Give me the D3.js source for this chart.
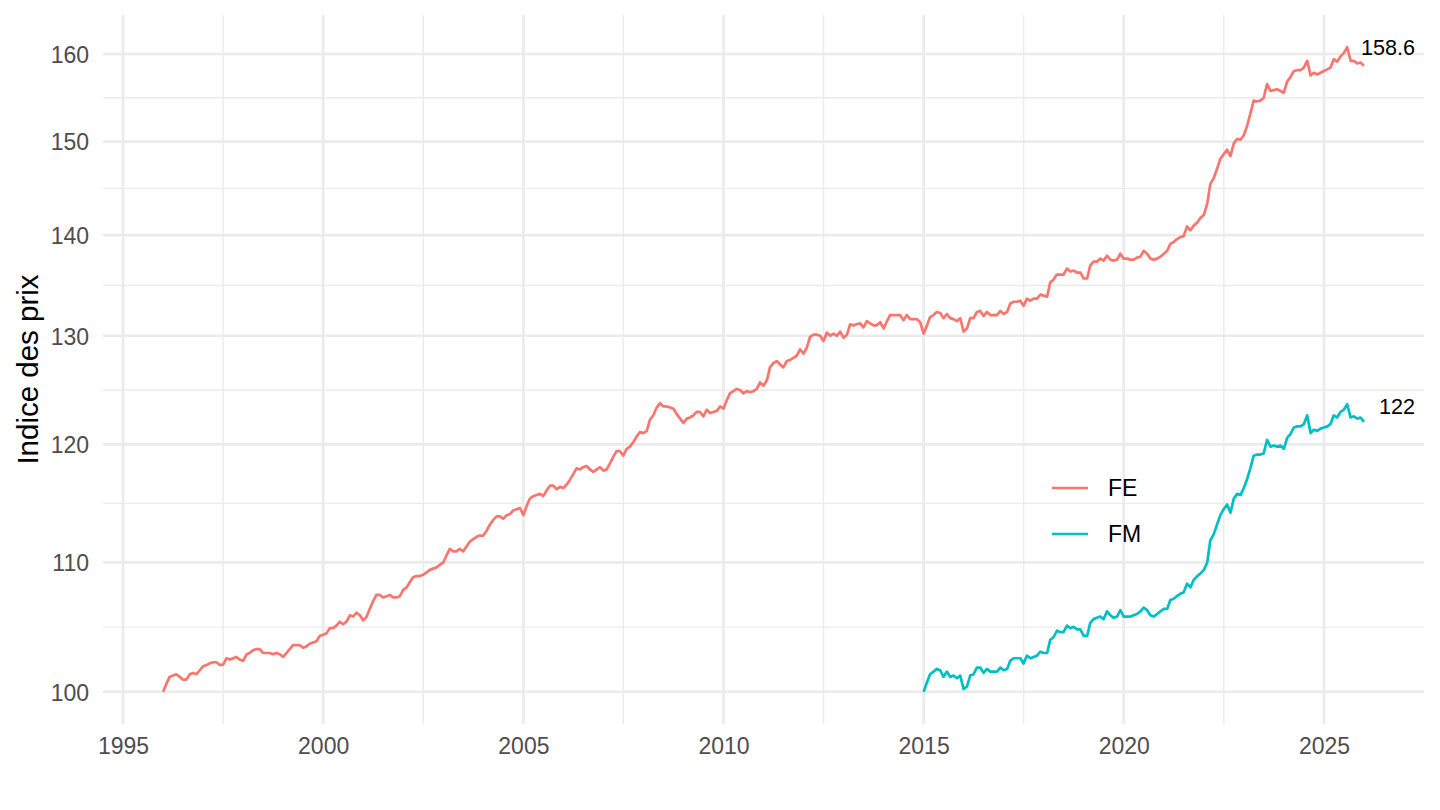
<!DOCTYPE html>
<html>
<head>
<meta charset="utf-8">
<script src="https://cdn.jsdelivr.net/npm/d3@7"></script>
<style>
  html, body { margin: 0; padding: 0; background: #ffffff; }
  svg { display: block; font-family: "Liberation Sans", Arial, Helvetica, sans-serif; }
</style>
</head>
<body>
<svg id="chart" width="1440" height="810"></svg>
<script>
// ---- Data (monthly price index) ----
const seriesNames = ["FE", "FM"];
const seriesColors = ["#F8766D", "#00BFC4"];
const feStart = [1996, 0];   // January 1996
const fmStart = [2015, 0];   // January 2015

const feValues = [
  100.0,100.6,101.1,101.2,101.3,101.1,100.9,100.9,101.3,101.4,101.3,101.6,
  101.9,102.0,102.1,102.2,102.2,102.0,102.0,102.5,102.4,102.5,102.6,102.4,
  102.3,102.8,102.9,103.1,103.2,103.2,102.9,102.9,102.9,102.8,102.9,102.8,
  102.6,102.9,103.2,103.5,103.5,103.5,103.3,103.4,103.6,103.7,103.8,104.2,
  104.3,104.4,104.8,104.8,105.0,105.3,105.1,105.3,105.8,105.7,106.0,105.8,
  105.4,105.7,106.3,106.9,107.4,107.4,107.2,107.3,107.4,107.2,107.2,107.3,
  107.8,108.0,108.4,108.8,108.9,108.9,109.0,109.2,109.4,109.5,109.6,109.8,
  110.0,110.6,111.1,110.9,110.9,111.1,110.9,111.3,111.7,111.9,112.1,112.2,
  112.2,112.6,113.1,113.5,113.8,113.8,113.6,113.9,114.0,114.3,114.4,114.5,
  113.9,114.7,115.3,115.5,115.6,115.7,115.5,116.0,116.4,116.4,116.1,116.3,
  116.2,116.5,116.9,117.4,117.9,117.8,118.0,118.1,117.8,117.6,117.8,118.0,
  117.7,117.8,118.3,118.9,119.4,119.4,119.0,119.6,119.8,120.2,120.7,121.1,
  121.0,121.2,122.2,122.6,123.3,123.7,123.4,123.4,123.3,123.2,122.7,122.3,
  121.9,122.3,122.4,122.6,122.9,122.9,122.5,123.1,122.8,122.9,123.0,123.4,
  123.2,124.0,124.6,124.8,125.0,124.9,124.6,124.8,124.7,124.8,125.0,125.6,
  125.3,125.8,127.0,127.4,127.6,127.3,127.0,127.6,127.7,127.9,128.1,128.7,
  128.3,128.9,129.9,130.1,130.1,130.0,129.5,130.3,130.0,130.2,130.0,130.4,
  129.8,130.1,131.1,131.0,131.1,131.2,130.8,131.4,131.2,131.0,131.0,131.3,
  130.7,131.4,132.0,132.0,132.0,132.0,131.5,132.0,131.6,131.6,131.6,131.3,
  130.2,131.0,131.8,132.0,132.3,132.2,131.7,132.1,131.7,131.6,131.4,131.7,
  130.4,130.7,131.7,131.7,132.3,132.4,131.9,132.3,132.0,132.0,132.0,132.4,
  132.1,132.3,133.1,133.3,133.3,133.4,132.9,133.6,133.4,133.6,133.6,134.0,
  133.9,133.8,135.2,135.5,136.0,136.0,136.0,136.6,136.3,136.4,136.2,136.2,
  135.6,135.6,136.9,137.3,137.3,137.6,137.4,137.9,137.5,137.4,137.5,138.1,
  137.6,137.6,137.5,137.5,137.7,137.8,138.4,138.1,137.6,137.5,137.6,137.8,
  138.1,138.4,139.1,139.3,139.6,139.8,139.9,140.9,140.5,141.0,141.3,141.8,
  142.1,143.3,145.4,146.0,147.0,148.1,148.6,149.1,148.4,149.8,150.3,150.2,
  150.7,151.8,153.1,154.6,154.5,154.6,154.9,156.5,155.7,155.8,155.9,155.7,
  155.5,156.8,157.3,158.0,158.1,158.1,158.4,159.2,157.5,157.8,157.6,157.8,
  158.0,158.2,158.4,159.4,159.1,159.7,160.1,160.8,159.2,159.2,158.9,159.0,
  158.6
];

const fmValues = [
  100.0,100.7,101.3,101.5,101.7,101.6,101.1,101.5,101.1,101.2,101.0,101.2,
  100.2,100.4,101.2,101.3,101.8,101.8,101.4,101.7,101.5,101.5,101.5,101.8,
  101.6,101.7,102.3,102.5,102.5,102.5,102.1,102.7,102.5,102.6,102.7,103.0,
  102.9,102.9,103.9,104.1,104.6,104.5,104.5,105.0,104.8,104.9,104.7,104.7,
  104.2,104.2,105.2,105.5,105.6,105.7,105.5,106.1,105.8,105.6,105.7,106.2,
  105.7,105.7,105.7,105.8,105.9,106.1,106.4,106.2,105.8,105.7,105.9,106.1,
  106.3,106.3,107.0,107.1,107.3,107.5,107.6,108.3,108.0,108.6,108.9,109.1,
  109.4,110.0,111.8,112.3,113.1,113.9,114.4,114.8,114.1,115.3,115.7,115.6,
  116.2,117.0,117.9,119.0,119.1,119.1,119.2,120.4,119.8,119.9,119.8,119.9,
  119.6,120.6,120.9,121.5,121.6,121.6,121.8,122.6,121.0,121.3,121.2,121.4,
  121.5,121.6,121.8,122.6,122.4,122.9,123.1,123.6,122.4,122.5,122.3,122.4,
  122.0
];

const yTicks = [100, 110, 120, 130, 140, 150, 160];
const xTickYears = [1995, 2000, 2005, 2010, 2015, 2020, 2025];
const yTitle = "Indice des prix";

// ---- Build series ----
function toSeries(start, values) {
  return values.map((v, i) => ({ date: new Date(start[0], start[1] + i, 1), value: v }));
}
const series = [
  { name: seriesNames[0], color: seriesColors[0], points: toSeries(feStart, feValues) },
  { name: seriesNames[1], color: seriesColors[1], points: toSeries(fmStart, fmValues) }
];

// ---- Layout ----
const panel = { left: 103, right: 1424, top: 15, bottom: 724 };
const svg = d3.select("#chart");

const allPts = series.flatMap(s => s.points);
const xExt = d3.extent(allPts, d => d.date);
const xSpan = xExt[1] - xExt[0];
const x = d3.scaleTime()
  .domain([new Date(+xExt[0] - 0.05 * xSpan), new Date(+xExt[1] + 0.05 * xSpan)])
  .range([panel.left, panel.right]);

const yExt = d3.extent(allPts, d => d.value);
const lmin = Math.log10(yExt[0]), lmax = Math.log10(yExt[1]);
const lpad = 0.05 * (lmax - lmin);
const y = d3.scaleLog()
  .domain([Math.pow(10, lmin - lpad), Math.pow(10, lmax + lpad)])
  .range([panel.bottom, panel.top]);

const grid = svg.append("g");

// minor horizontal gridlines: midpoints in log space
const yMinor = [];
for (let i = 0; i < yTicks.length - 1; i++) {
  yMinor.push(Math.sqrt(yTicks[i] * yTicks[i + 1]));
}
grid.selectAll(".yminor").data(yMinor).join("line")
  .attr("x1", panel.left).attr("x2", panel.right)
  .attr("y1", d => y(d)).attr("y2", d => y(d))
  .attr("stroke", "#EBEBEB").attr("stroke-width", 1.4);

// minor vertical gridlines (mid-way between 5-year ticks)
const xMinor = xTickYears.slice(0, -1).map(yr => new Date(yr + 2, 6, 2));
grid.selectAll(".xminor").data(xMinor).join("line")
  .attr("y1", panel.top).attr("y2", panel.bottom)
  .attr("x1", d => x(d)).attr("x2", d => x(d))
  .attr("stroke", "#EBEBEB").attr("stroke-width", 1.4);

// major gridlines
grid.selectAll(".ymajor").data(yTicks).join("line")
  .attr("x1", panel.left).attr("x2", panel.right)
  .attr("y1", d => y(d)).attr("y2", d => y(d))
  .attr("stroke", "#EBEBEB").attr("stroke-width", 2.7);

const xTickDates = xTickYears.map(yr => new Date(yr, 0, 1));
grid.selectAll(".xmajor").data(xTickDates).join("line")
  .attr("y1", panel.top).attr("y2", panel.bottom)
  .attr("x1", d => x(d)).attr("x2", d => x(d))
  .attr("stroke", "#EBEBEB").attr("stroke-width", 2.7);

// axes (text only, theme_minimal style)
const yAxis = d3.axisLeft(y).tickValues(yTicks).tickFormat(d3.format("d")).tickSize(0).tickPadding(14);
const gy = svg.append("g").attr("transform", `translate(${panel.left},0)`).call(yAxis);
gy.select(".domain").remove();
gy.selectAll("text").attr("fill", "#4D4D4D").style("font-size", "23px")
  .attr("dy", "0.36em");

const xAxis = d3.axisBottom(x).tickValues(xTickDates).tickFormat(d3.timeFormat("%Y")).tickSize(0).tickPadding(14);
const gx = svg.append("g").attr("transform", `translate(0,${panel.bottom})`).call(xAxis);
gx.select(".domain").remove();
gx.selectAll("text").attr("fill", "#4D4D4D").style("font-size", "23px");

// y title
svg.append("text")
  .attr("transform", `translate(38,${(panel.top + panel.bottom) / 2}) rotate(-90)`)
  .attr("text-anchor", "middle")
  .attr("fill", "#000")
  .style("font-size", "29.5px")
  .text(yTitle);

// lines
const line = d3.line().x(d => x(d.date)).y(d => y(d.value));
svg.append("g").selectAll("path").data(series).join("path")
  .attr("d", d => line(d.points))
  .attr("fill", "none")
  .attr("stroke", d => d.color)
  .attr("stroke-width", 2.7)
  .attr("stroke-linejoin", "round");

// end labels
const labelOffsets = [{ dx: 51, dy: -11 }, { dx: 51, dy: -8 }];
svg.append("g").selectAll("text").data(series).join("text")
  .attr("x", (d, i) => x(d.points[d.points.length - 1].date) + labelOffsets[i].dx)
  .attr("y", (d, i) => y(d.points[d.points.length - 1].value) + labelOffsets[i].dy)
  .attr("text-anchor", "end")
  .attr("fill", "#000")
  .style("font-size", "21.6px")
  .text(d => String(Number(d.points[d.points.length - 1].value.toFixed(1))));

// legend
const legend = svg.append("g").attr("transform", "translate(1052,488)");
const items = legend.selectAll("g").data(series).join("g")
  .attr("transform", (d, i) => `translate(0,${i * 46})`);
items.append("line")
  .attr("x1", 0).attr("x2", 36).attr("y1", 0).attr("y2", 0)
  .attr("stroke", d => d.color).attr("stroke-width", 2.7);
items.append("text")
  .attr("x", 56).attr("y", 0).attr("dy", "0.36em")
  .attr("fill", "#000")
  .style("font-size", "23px")
  .text(d => d.name);
</script>
</body>
</html>
